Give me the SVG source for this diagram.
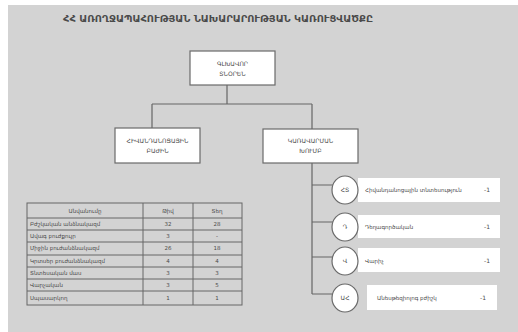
<svg xmlns="http://www.w3.org/2000/svg" width="518" height="332" viewBox="0 0 518 332">
<style>
text{font-family:"DejaVu Sans","Noto Sans",sans-serif;fill:#4a4a4a}
.box{fill:#fff;stroke:#6a6a6a;stroke-width:1.2}
.lbl{fill:#fff;stroke:none}
.circ{fill:#fff;stroke:#6a6a6a;stroke-width:1.2}
.ln{stroke:#666;stroke-width:1.2;fill:none}
.tb{stroke:#666;stroke-width:1;fill:none}
.t6{font-size:6px}
.t5{font-size:5.5px}
</style>
<rect x="0" y="0" width="518" height="332" fill="#fff"/>
<rect x="8" y="5" width="510" height="327" fill="#d3d3d3"/>
<text x="63" y="22" font-size="8" font-weight="bold" textLength="310" lengthAdjust="spacingAndGlyphs">ՀՀ ԱՌՈՂՋԱՊԱՀՈՒԹՅԱՆ ՆԱԽԱՐԱՐՈՒԹՅԱՆ ԿԱՌՈՒՑՎԱԾՔԸ</text>
<g id="connectors">
<path class="ln" d="M227 85V104M152 104H312M152 104V128M312 104V129M312 163V294"/>
<path class="ln" d="M312 185H334M312 222H334M312 257H334M312 294H334"/>
</g>
<g id="n-director">
<rect class="box" x="190" y="51" width="85" height="34"/>
<text class="t6" x="232.5" y="66" text-anchor="middle">ԳԼԽԱՎՈՐ</text>
<text class="t6" x="232.5" y="76" text-anchor="middle">ՏՆՕՐԵՆ</text>
</g>
<g id="n-left">
<rect class="box" x="115" y="128" width="85" height="35"/>
<text class="t6" x="157.5" y="143" text-anchor="middle">ՀԻՎԱՆԴԱՆՈՑԱՅԻՆ</text>
<text class="t6" x="157.5" y="153" text-anchor="middle">ԲԱԺԻՆ</text>
</g>
<g id="n-right">
<rect class="box" x="263" y="129" width="95" height="34"/>
<text class="t6" x="310.5" y="143" text-anchor="middle">ԿԱՌԱՎԱՐՄԱՆ</text>
<text class="t6" x="310.5" y="153" text-anchor="middle">ԽՈՒՄԲ</text>
</g>
<g id="n-item1">
<rect class="lbl" x="358" y="178" width="142" height="24"/>
<ellipse class="circ" cx="345" cy="190" rx="13" ry="14"/>
<text class="t6" x="345" y="192" text-anchor="middle">ՀՏ</text>
<text class="t5" x="365" y="192">Հիվանդանոցային տնտեսություն</text>
<text class="t6" x="484" y="192">-1</text>
</g>
<g id="n-item2">
<rect class="lbl" x="358" y="215" width="142" height="23"/>
<ellipse class="circ" cx="345" cy="227" rx="13" ry="14"/>
<text class="t6" x="345" y="229" text-anchor="middle">Դ</text>
<text class="t5" x="365" y="229">Դեղագործական</text>
<text class="t6" x="484" y="229">-1</text>
</g>
<g id="n-item3">
<rect class="lbl" x="358" y="248" width="142" height="24"/>
<ellipse class="circ" cx="345" cy="261" rx="13" ry="14"/>
<text class="t6" x="345" y="263" text-anchor="middle">Վ</text>
<text class="t5" x="365" y="263">Վարիչ</text>
<text class="t6" x="484" y="263">-1</text>
</g>
<g id="n-item4">
<rect class="lbl" x="367" y="285" width="130" height="25"/>
<ellipse class="circ" cx="345" cy="298" rx="13" ry="14"/>
<text class="t6" x="345" y="300" text-anchor="middle">ԱՀ</text>
<text class="t5" x="377" y="300">Անեսթեզիոլոգ բժիշկ</text>
<text class="t6" x="480" y="300">-1</text>
</g>
<g id="n-table">
<rect class="tb" x="27" y="203" width="215" height="102"/>
<path class="tb" d="M143 203V305M193 203V305M27 218H242M27 230H242M27 242H242M27 255H242M27 267H242M27 279H242M27 291H242"/>
<g class="t5">
<text x="85" y="213" text-anchor="middle">Անվանումը</text>
<text x="168" y="213" text-anchor="middle">Թիվ</text>
<text x="217" y="213" text-anchor="middle">Տեղ</text>
<text x="30" y="226">Բժշկական անձնակազմ</text>
<text x="30" y="238">Ավագ բուժքույր</text>
<text x="30" y="250">Միջին բուժանձնակազմ</text>
<text x="30" y="263">Կրտսեր բուժանձնակազմ</text>
<text x="30" y="275">Տնտեսական մաս</text>
<text x="30" y="287">Վարչական</text>
<text x="30" y="300">Սպասարկող</text>
<text x="168" y="226" text-anchor="middle">32</text>
<text x="168" y="238" text-anchor="middle">3</text>
<text x="168" y="250" text-anchor="middle">26</text>
<text x="168" y="263" text-anchor="middle">4</text>
<text x="168" y="275" text-anchor="middle">3</text>
<text x="168" y="287" text-anchor="middle">3</text>
<text x="168" y="300" text-anchor="middle">1</text>
<text x="217" y="226" text-anchor="middle">28</text>
<text x="217" y="238" text-anchor="middle">-</text>
<text x="217" y="250" text-anchor="middle">18</text>
<text x="217" y="263" text-anchor="middle">4</text>
<text x="217" y="275" text-anchor="middle">3</text>
<text x="217" y="287" text-anchor="middle">5</text>
<text x="217" y="300" text-anchor="middle">1</text>
</g>
</g>
</svg>
